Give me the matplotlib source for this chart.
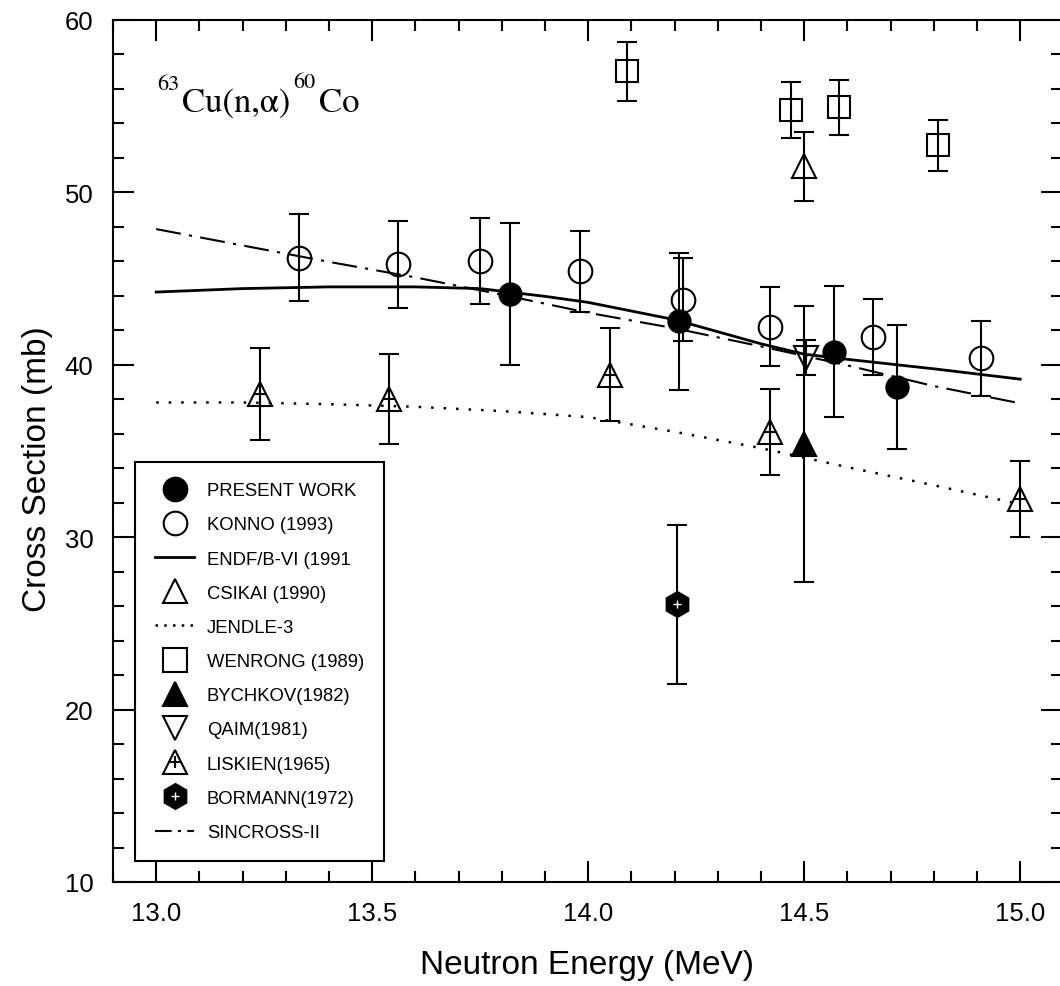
import numpy as np
import matplotlib.pyplot as plt
import matplotlib.ticker as mticker
from matplotlib.lines import Line2D
from matplotlib.legend_handler import HandlerTuple

# measured points (energy in MeV, cross section in mb, error in mb)
presentE = [13.82, 14.21, 14.57, 14.715]
presentV = [44.1, 42.5, 40.75, 38.7]
presentErr = [4.1, 3.95, 3.8, 3.6]

konnoE = [13.33, 13.56, 13.75, 13.98, 14.22, 14.42, 14.66, 14.91]
konnoV = [46.2, 45.8, 46.0, 45.4, 43.75, 42.2, 41.6, 40.35]
konnoErr = [2.5, 2.5, 2.5, 2.35, 2.4, 2.3, 2.2, 2.2]

csikaiE = [14.50]
csikaiV = [51.5]
csikaiErr = [2.0]

wenrongE = [14.09, 14.47, 14.58, 14.81]
wenrongV = [57.0, 54.75, 54.9, 52.7]
wenrongErr = [1.7, 1.6, 1.6, 1.5]

bychkovE = [14.50]
bychkovV = [35.4]
bychkovErr = [8.0]

qaimE = [14.505]
qaimV = [40.4]
qaimErr = [1.0]

liskienE = [13.24, 13.54, 14.05, 14.42, 15.0]
liskienV = [38.3, 38.0, 39.4, 36.1, 32.2]
liskienErr = [2.65, 2.6, 2.7, 2.5, 2.2]

bormannE = [14.205]
bormannV = [26.1]
bormannErr = [4.6]

# evaluated curves
endfE = [13.0, 13.2, 13.4, 13.6, 13.75, 13.9, 14.0, 14.2, 14.4, 14.5, 14.6, 14.8, 15.0]
endfV = [44.2, 44.4, 44.5, 44.5, 44.4, 43.95, 43.6, 42.6, 41.2, 40.6, 40.3, 39.75, 39.15]

sincrossE = [13.0, 13.2, 13.4, 13.6, 13.8, 14.0, 14.2, 14.4, 14.6, 14.8, 15.0]
sincrossV = [47.85, 46.9, 45.95, 45.05, 44.05, 43.0, 42.1, 41.05, 39.95, 38.75, 37.75]

jendlE = [13.0, 13.2, 13.4, 13.6, 13.8, 14.0, 14.2, 14.4, 14.6, 14.8, 15.0]
jendlV = [37.8, 37.8, 37.7, 37.55, 37.3, 36.95, 36.1, 35.15, 34.05, 33.0, 31.9]

plt.rcParams["font.family"] = ["Liberation Sans", "DejaVu Sans"]

fig = plt.figure(figsize=(10.6, 9.87), dpi=100)
W, H = 1060, 987
ax = fig.add_axes([113 / W, (H - 883) / H, (1062 - 113) / W, (883 - 20.5) / H])

lw = 1.5
ebKw = dict(ls="none", ecolor="black", elinewidth=lw, capsize=7, capthick=lw,
            mec="black", mew=lw, zorder=3)

# curves
ax.plot(endfE, endfV, color="black", lw=2.0, zorder=2)
ax.plot(jendlE, jendlV, color="black", lw=1.8, ls=(0, (1, 4)), zorder=2)
ax.plot(sincrossE, sincrossV, color="black", lw=1.5, ls=(0, (12, 4, 1.5, 4)), zorder=2)

# data with error bars
ax.errorbar(konnoE, konnoV, yerr=konnoErr, fmt="o", ms=17, mfc="none", **ebKw)
ax.errorbar(wenrongE, wenrongV, yerr=wenrongErr, fmt="s", ms=16, mfc="none", **ebKw)
ax.errorbar(csikaiE, csikaiV, yerr=csikaiErr, fmt="^", ms=17, mfc="none", **ebKw)
ax.errorbar(bychkovE, bychkovV, yerr=bychkovErr, fmt="^", ms=17, mfc="black", **ebKw)
ax.errorbar(qaimE, qaimV, yerr=qaimErr, fmt="v", ms=17, mfc="none", **ebKw)
ax.errorbar(liskienE, liskienV, yerr=liskienErr, fmt="^", ms=17, mfc="none", **ebKw)
ax.plot(liskienE, liskienV, ls="none", marker="+", ms=9, mew=lw, color="black", zorder=4)
ax.errorbar(bormannE, bormannV, yerr=bormannErr, fmt="h", ms=18, mfc="black", **ebKw)
ax.plot(bormannE, bormannV, ls="none", marker="+", ms=6, mew=1.0, color="white", zorder=4)
ax.errorbar(presentE, presentV, yerr=presentErr, fmt="o", ms=16, mfc="black", **ebKw)

ax.set_xlim(12.9, 12.9 + 949 / 432)
ax.set_ylim(10, 60)

ax.xaxis.set_major_locator(mticker.MultipleLocator(0.5))
ax.xaxis.set_minor_locator(mticker.MultipleLocator(0.1))
ax.yaxis.set_major_locator(mticker.MultipleLocator(10))
ax.yaxis.set_minor_locator(mticker.MultipleLocator(2))
ax.xaxis.set_major_formatter(mticker.FormatStrFormatter("%.1f"))
ax.yaxis.set_major_formatter(mticker.FormatStrFormatter("%d"))

ax.tick_params(which="both", direction="in", top=True, right=True, width=lw,
               labelsize=18.5, pad=14)
ax.tick_params(which="major", length=15)
ax.tick_params(which="minor", length=8)
for s in ax.spines.values():
    s.set_linewidth(lw)

ax.set_xlabel("Neutron Energy (MeV)", fontsize=24, labelpad=17)
ax.set_ylabel("Cross Section (mb)", fontsize=24)
ax.yaxis.set_label_coords(-0.063, 0.48)

# reaction label, pieces placed like the original typesetting
def axPt(px, py):
    return ((px - 113) / 949, (883 - py) / 862.5)

serif = ["STIXGeneral", "Liberation Serif"]
ax.text(*axPt(157, 90), "63", transform=ax.transAxes, fontsize=16, family=serif, va="baseline")
ax.text(*axPt(182, 112), "Cu(n,α)", transform=ax.transAxes, fontsize=25, family=serif, va="baseline")
ax.text(*axPt(293, 88), "60", transform=ax.transAxes, fontsize=16, family=serif, va="baseline")
ax.text(*axPt(319, 112), "Co", transform=ax.transAxes, fontsize=25, family=serif, va="baseline")

# legend
def mk(marker, ms, fc, **kw):
    return Line2D([], [], ls="none", marker=marker, ms=ms, mfc=fc, mec="black", mew=lw, **kw)

handles = [
    mk("o", 17, "black"),
    mk("o", 17, "none"),
    Line2D([], [], color="black", lw=2.0),
    mk("^", 17, "none"),
    Line2D([], [], color="black", lw=1.8, ls=(0, (1, 2.5))),
    mk("s", 17, "none"),
    mk("^", 17, "black"),
    mk("v", 17, "none"),
    (mk("^", 17, "none"), Line2D([], [], ls="none", marker="+", ms=9, mew=lw, color="black")),
    (mk("h", 18, "black"), Line2D([], [], ls="none", marker="+", ms=6, mew=1.0, color="white")),
    Line2D([], [], color="black", lw=1.5, ls=(0, (8, 3, 1.5, 3))),
]
labels = ["PRESENT WORK", "KONNO (1993)", "ENDF/B-VI (1991", "CSIKAI (1990)", "JENDLE-3",
          "WENRONG (1989)", "BYCHKOV(1982)", "QAIM(1981)", "LISKIEN(1965)",
          "BORMANN(1972)", "SINCROSS-II"]
leg = ax.legend(handles, labels, loc="lower left", bbox_to_anchor=(0.023, 0.024),
                borderaxespad=0, fontsize=13.3, labelspacing=0.93, handlelength=2.1,
                handletextpad=0.7, borderpad=1.1, fancybox=False, framealpha=1,
                edgecolor="black", handler_map={tuple: HandlerTuple(ndivide=1)})
leg.get_frame().set_linewidth(lw)

plt.savefig("out.png", dpi=100)
